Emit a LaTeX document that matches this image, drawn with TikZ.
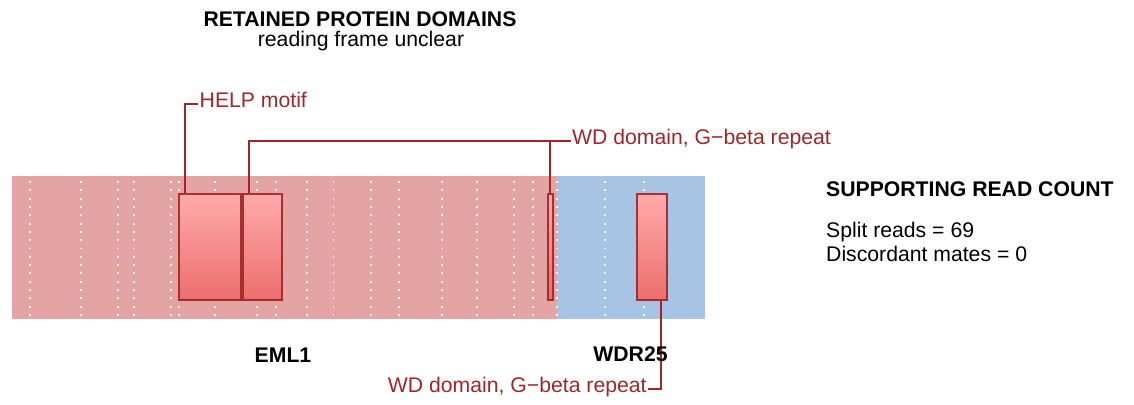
\documentclass[tikz,border=0pt]{standalone}
\usepackage{fontspec}
\setmainfont{Liberation Sans}
\definecolor{txtred}{HTML}{A32626}
\definecolor{bgred}{HTML}{E5A4A4}
\definecolor{bgblue}{HTML}{A7C4E4}
\definecolor{boxtop}{HTML}{FFABAB}
\definecolor{boxbot}{HTML}{EC6E6E}
\definecolor{boxline}{HTML}{A02424}
\begin{document}
\begin{tikzpicture}[x=1pt,y=-1pt,
  font=\fontsize{21.2}{24}\selectfont,
  txt/.style={inner sep=0pt},
  bold/.style={inner sep=0pt, font=\fontsize{21.2}{24}\selectfont\bfseries},
  lbl/.style={text=txtred, inner xsep=1.5pt, inner ysep=0pt, text height=0.716em, text depth=0pt},
  conn/.style={draw=txtred, line width=2pt},
  dombox/.style={draw=boxline, draw opacity=0.9, line width=2pt, top color=boxtop, bottom color=boxbot, inner sep=0pt, minimum height=106.6pt},
  dotline/.style={draw=white, draw opacity=0.9, line width=1.9pt, dash pattern=on 1.9pt off 6.4pt}
]
\useasboundingbox (0,0) rectangle (1134,404);
% backgrounds
\fill[bgred] (12,176) rectangle (557.3,319);
\fill[bgblue] (557.3,176) rectangle (705,319);
% dotted exon boundaries
\foreach \x in {30,81,117.7,133.7,171,179,215.3,256.7,276.3,307,333.5,371,398.7,441.8,476.8,514,532.7,557.3,605,644}
  \draw[dotline] (\x,181.1) -- (\x,316);
% domain boxes
\node[dombox, minimum width=61.7pt] (d1) at (209.85,247) {};
\node[dombox, minimum width=39.3pt] (d2) at (262.65,247) {};
\node[dombox, minimum width=5pt] (d3) at (550.2,247) {};
\node[dombox, minimum width=30pt] (d4) at (652.3,247) {};
% labels
\node[lbl, anchor=west] (help) at (198,104.3) {HELP motif};
\node[lbl, anchor=west] (wd1) at (570.5,140.5) {WD domain, G\textminus beta repeat};
\node[lbl, anchor=east] (wd2) at (648.3,389) {WD domain, G\textminus beta repeat};
% connectors
\draw[conn] ([xshift=7pt]d1.north west) |- (help.west);
\draw[conn] ([xshift=6.5pt]d2.north west) |- (wd1.west);
\draw[conn] (d3.north) -- (d3.north |- wd1.west);
\draw[conn] ([xshift=-7.3pt]d4.south east) |- (wd2.east);
% titles
\node[bold, anchor=base] (title) at (360,26.7) {RETAINED PROTEIN DOMAINS};
\node[txt, anchor=base] (sub) at (361,46.7) {reading frame unclear};
\node[bold, anchor=base] (g1) at (283,362) {EML1};
\node[bold, anchor=base] (g2) at (630.5,361) {WDR25};
\node[bold, anchor=base west] (rc) at (826,196.7) {SUPPORTING READ COUNT};
\node[txt, anchor=base west] (s1) at (826,237) {Split reads = 69};
\node[txt, anchor=base west] (s2) at (826,261) {Discordant mates = 0};
\end{tikzpicture}
\end{document}
